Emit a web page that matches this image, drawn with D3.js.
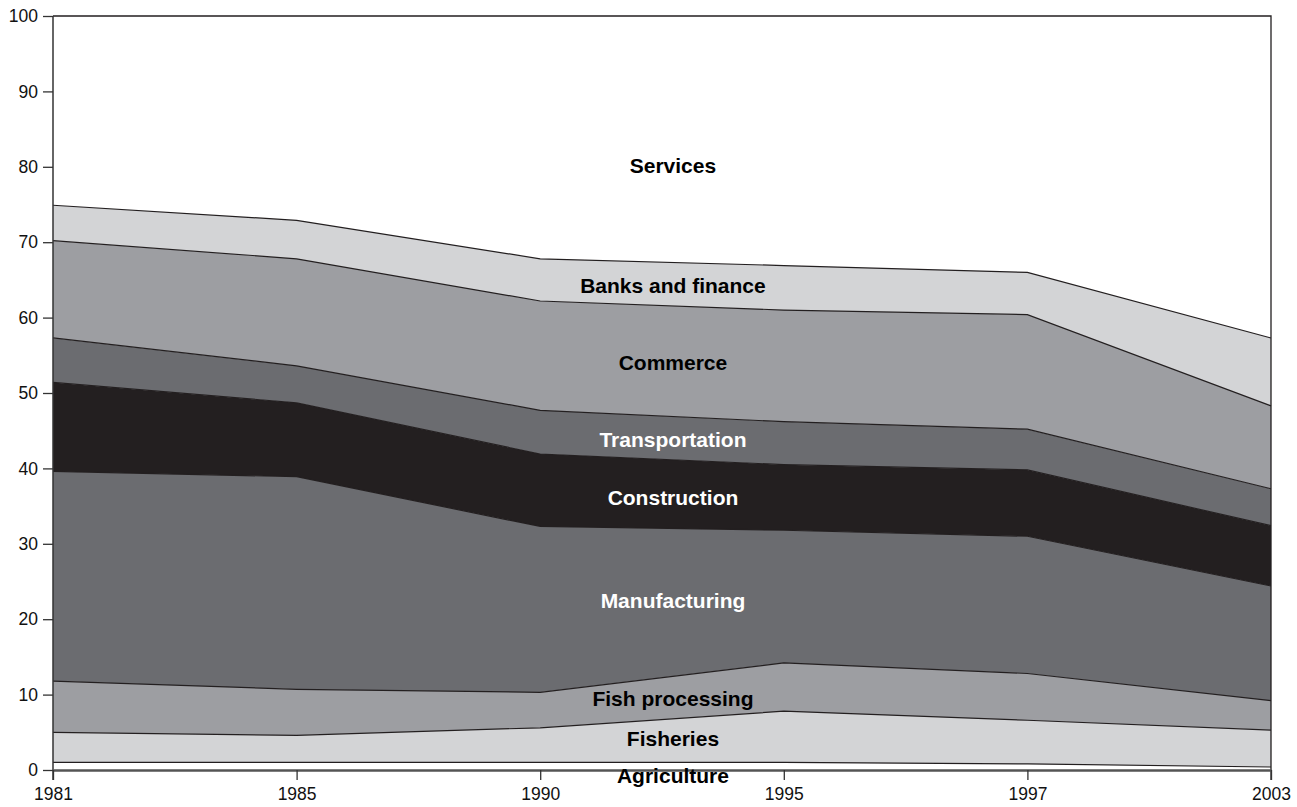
<!DOCTYPE html>
<html>
<head>
<meta charset="utf-8">
<script src="https://cdn.jsdelivr.net/npm/d3@7"></script>
<style>
  html, body { margin: 0; padding: 0; background: #fff; overflow: hidden; }
  svg { display: block; font-family: "Liberation Sans", Arial, sans-serif; }
</style>
</head>
<body>
<div id="chart"></div>
<script>
// Data (percent of total, stacked bottom to top)
const years = ["1981", "1985", "1990", "1995", "1997", "2003"];
const sectors = ["Agriculture", "Fisheries", "Fish processing", "Manufacturing", "Construction",
  "Transportation", "Commerce", "Banks and finance", "Services"];
const agriculture    = [1.0, 1.0, 1.0, 1.0, 0.8, 0.4];
const fisheries      = [4.0, 3.6, 4.6, 6.8, 5.8, 4.9];
const fishProcessing = [6.8, 6.1, 4.7, 6.4, 6.2, 3.9];
const manufacturing  = [27.8, 28.2, 22.0, 17.6, 18.2, 15.2];
const construction   = [11.8, 9.8, 9.6, 8.7, 8.8, 8.0];
const transportation = [5.9, 4.9, 5.8, 5.7, 5.4, 4.9];
const commerce       = [12.9, 14.2, 14.5, 14.8, 15.2, 11.0];
const banks          = [4.7, 5.1, 5.6, 5.9, 5.6, 9.0];
const services       = [25.1, 27.1, 32.2, 33.1, 34.0, 42.7];
const yTicks = [0, 10, 20, 30, 40, 50, 60, 70, 80, 90, 100];
// label anchor heights (value units) for the in-area labels
const labelValues = [-0.7, 4.2, 9.5, 22.5, 36.1, 43.8, 54.0, 64.3, 80.1];

const seriesValues = [agriculture, fisheries, fishProcessing, manufacturing, construction,
  transportation, commerce, banks, services];
const fills = ["#ffffff", "#d3d4d6", "#9d9ea2", "#6b6c70", "#231f20", "#6b6c70", "#9d9ea2", "#d3d4d6", "#ffffff"];
const labelColors = ["#000", "#000", "#000", "#fff", "#fff", "#fff", "#000", "#000", "#000"];

const rows = years.map((y, i) => {
  const r = { year: y };
  sectors.forEach((s, k) => r[s] = seriesValues[k][i]);
  return r;
});

const width = 1297, height = 807;
const margin = { top: 16, right: 26, bottom: 37, left: 53 };
const innerWidth = width - margin.left - margin.right;
const innerHeight = height - margin.top - margin.bottom;

const svg = d3.select("#chart").append("svg")
  .attr("width", width)
  .attr("height", height);

const chart = svg.append("g")
  .attr("transform", `translate(${margin.left},${margin.top})`);

const x = d3.scalePoint().domain(years).range([0, innerWidth]);
const y = d3.scaleLinear().domain([0, 100]).range([innerHeight, 0]);

const stacked = d3.stack().keys(sectors)(rows);

const area = d3.area()
  .x(d => x(d.data.year))
  .y0(d => y(d[0]))
  .y1(d => y(d[1]));

chart.selectAll("path.layer")
  .data(stacked)
  .enter()
  .append("path")
  .attr("class", "layer")
  .attr("d", area)
  .attr("fill", (d, i) => fills[i]);

// boundary lines on top of each layer
const topLine = d3.line()
  .x(d => x(d.data.year))
  .y(d => y(d[1]));

chart.selectAll("path.edge")
  .data(stacked.slice(0, -1))
  .enter()
  .append("path")
  .attr("class", "edge")
  .attr("d", topLine)
  .attr("fill", "none")
  .attr("stroke", "#231f20")
  .attr("stroke-width", 1.2);

// frame: top and right
chart.append("path")
  .attr("d", `M0,${y(100)}H${innerWidth}V${innerHeight + 10}`)
  .attr("fill", "none")
  .attr("stroke", "#231f20")
  .attr("stroke-width", 1.3);

// y axis
const yAxis = chart.append("g")
  .call(d3.axisLeft(y).tickValues(yTicks).tickSize(10).tickPadding(5).tickSizeOuter(0));
yAxis.select(".domain").attr("stroke", "#333").attr("stroke-width", 1.5)
  .attr("d", `M0,${y(100)}V${innerHeight + 10}`);
yAxis.selectAll(".tick line").attr("stroke", "#333").attr("stroke-width", 1.3);
yAxis.selectAll(".tick text")
  .style("font-size", "17.5px")
  .style("font-family", "Liberation Sans, Arial, sans-serif")
  .attr("fill", "#111");

// x axis
const xAxis = chart.append("g")
  .attr("transform", `translate(0,${innerHeight})`)
  .call(d3.axisBottom(x).tickSize(10).tickPadding(8).tickSizeOuter(0));
xAxis.select(".domain").attr("stroke", "#555").attr("stroke-width", 2.5);
xAxis.selectAll(".tick line").attr("stroke", "#333").attr("stroke-width", 1.3);
xAxis.selectAll(".tick text")
  .style("font-size", "17.5px")
  .style("font-family", "Liberation Sans, Arial, sans-serif")
  .attr("fill", "#111");

// in-area labels
const labelX = innerWidth * 0.509;
chart.selectAll("text.sector-label")
  .data(sectors)
  .enter()
  .append("text")
  .attr("class", "sector-label")
  .attr("x", labelX)
  .attr("y", (d, i) => y(labelValues[i]))
  .attr("dy", "0.35em")
  .attr("text-anchor", "middle")
  .style("font-size", "21px")
  .style("font-weight", "bold")
  .style("fill", (d, i) => labelColors[i])
  .text(d => d);
</script>
</body>
</html>
